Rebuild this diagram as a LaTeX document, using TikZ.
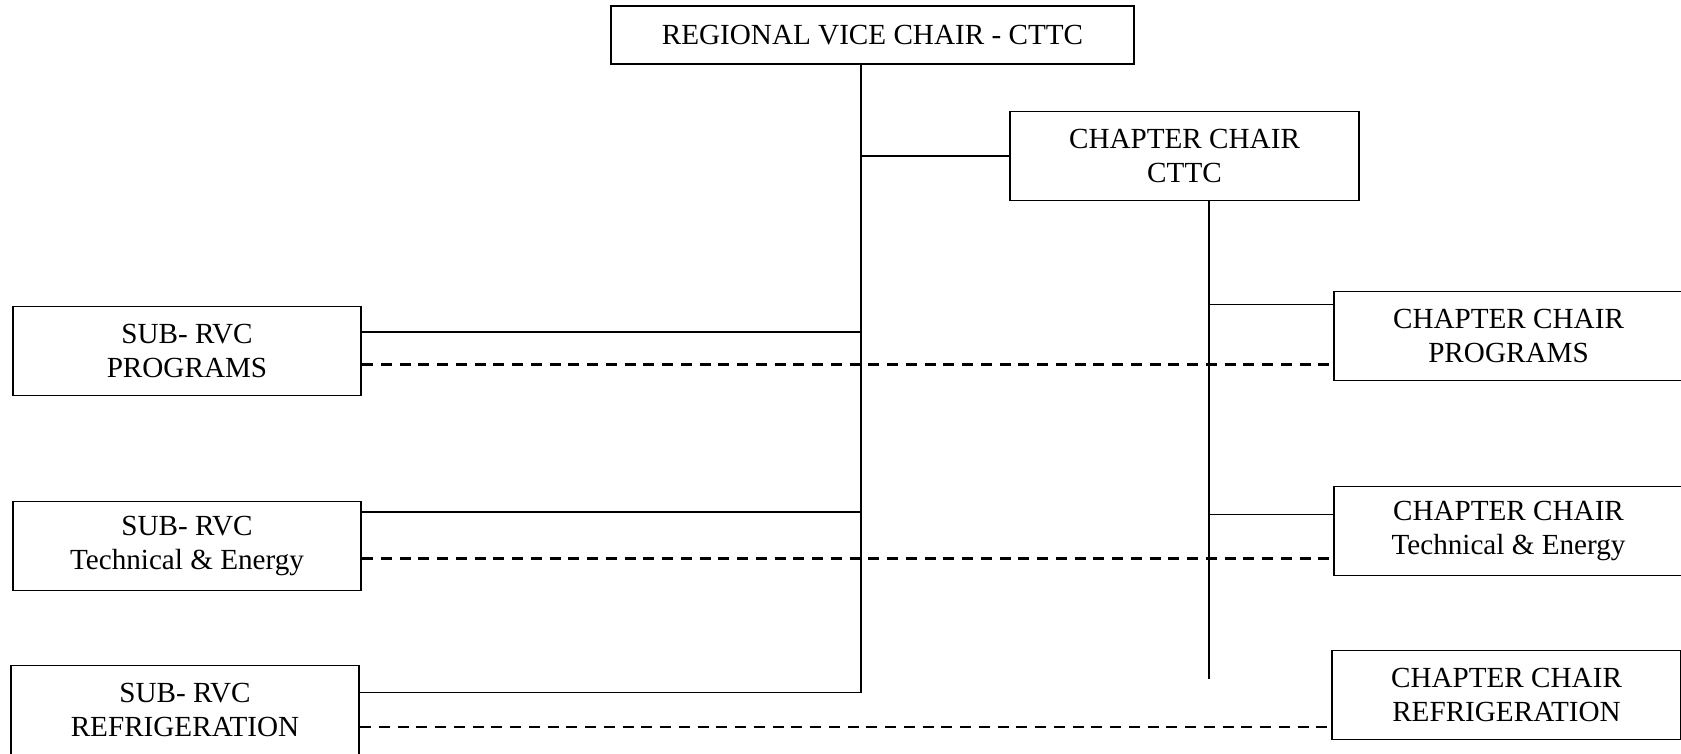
\documentclass[tikz,border=0pt]{standalone}
\usepackage{fontspec}
\setmainfont{Liberation Serif}
\usetikzlibrary{positioning,calc}

\tikzset{
  orgbox/.style={draw,line width=1.1pt,align=center,inner sep=0pt,
    minimum width=6.97cm,minimum height=1.78cm},
  solidlink/.style={line width=1.1pt},
  dashlink/.style={line width=1.6pt,dash pattern=on 0.22cm off 0.155cm},
}

\begin{document}
\begin{tikzpicture}[x=0.02cm,y=-0.02cm,
  font=\fontsize{16.6}{19}\selectfont]
  \useasboundingbox (0,0) rectangle (1681,754);
  % top of the chart
  \node[orgbox,minimum width=10.46cm,minimum height=1.16cm] (rvc)
    at (872.5,35) {REGIONAL VICE CHAIR - CTTC};
  \node[orgbox] (chap) at (1184.5,156) {CHAPTER CHAIR\\CTTC};
  % sub-rvc column
  \node[orgbox] (subprog) at (187,351) {SUB- RVC\\PROGRAMS};
  \node[orgbox] (subtech) at (187,546) {SUB- RVC\\Technical \& Energy};
  \node[orgbox] (subref) at (185,710) {SUB- RVC\\REFRIGERATION};
  % chapter chair column
  \node[orgbox] (chapprog) at (1508.5,336) {CHAPTER CHAIR\\PROGRAMS};
  \node[orgbox] (chaptech) at (1508.5,531) {CHAPTER CHAIR\\Technical \& Energy};
  \node[orgbox] (chapref) at (1506.5,695) {CHAPTER CHAIR\\REFRIGERATION};
  \coordinate (trunkbot) at (861,692.5);
  \coordinate (chapbot) at (1209,679);
  % trunks
  \draw[solidlink] (rvc.south -| trunkbot) -- (trunkbot);
  \draw[solidlink] (chap.south -| chapbot) -- (chapbot);
  \draw[solidlink] (chap.west) -- (chap.west -| trunkbot);
  % solid links
  \draw[solidlink] ([yshift=0.38cm]subprog.east) -- ([yshift=0.38cm]subprog.east -| trunkbot);
  \draw[solidlink] ([yshift=0.68cm]subtech.east) -- ([yshift=0.68cm]subtech.east -| trunkbot);
  \draw[solidlink] (trunkbot) -- (trunkbot -| subref.east);
  \draw[solidlink] ([yshift=0.63cm]chapprog.west) -- ([yshift=0.63cm]chapprog.west -| chapbot);
  \draw[solidlink] ([yshift=0.33cm]chaptech.west) -- ([yshift=0.33cm]chaptech.west -| chapbot);
  % dashed links
  \draw[dashlink] ([yshift=-0.27cm]subprog.east) -- ([yshift=-0.27cm]subprog.east -| chapprog.west);
  \draw[dashlink] ([yshift=-0.25cm]subtech.east) -- ([yshift=-0.25cm]subtech.east -| chaptech.west);
  \draw[dashlink] ([yshift=-0.34cm]subref.east) -- ([yshift=-0.34cm]subref.east -| chapref.west);
\end{tikzpicture}
\end{document}
